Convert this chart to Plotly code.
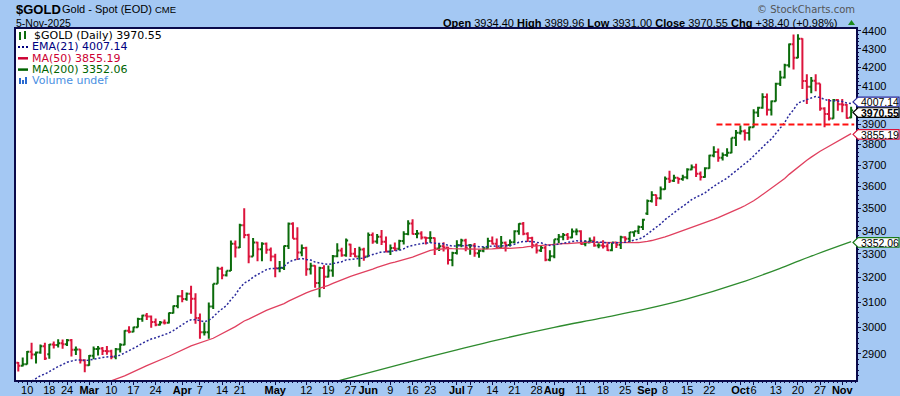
import numpy as np
import pandas as pd
import plotly.graph_objects as go

# ---------------- data ----------------
holidays = ["2025-02-17", "2025-04-18", "2025-05-26", "2025-06-19", "2025-07-04", "2025-09-01"]
_days = pd.bdate_range("2025-02-06", "2025-11-05")
_days = _days[~_days.isin(pd.to_datetime(holidays))]
dates = _days.strftime("%Y-%m-%d").tolist()

opens = [
    2867, 2856, 2861, 2908, 2898, 2905, 2929, 2899, 2935, 2933, 2940, 2936, 2951, 2915, 2916, 2876,
    2858, 2893, 2918, 2920, 2911, 2910, 2889, 2917, 2934, 2988, 2984, 3001, 3034, 3047, 3043, 3022, 3011, 3020, 3019, 3057, 3085,
    3124, 3113, 3134, 3114, 3037, 2982, 2982, 3083, 3175, 3237, 3210, 3229, 3343, 3327, 3424, 3381, 3288, 3349, 3319, 3343, 3317,
    3288, 3239, 3240, 3333, 3431, 3365, 3305, 3325, 3235, 3249, 3178, 3240, 3204, 3230, 3290, 3314, 3294, 3340, 3300, 3288, 3318,
    3289, 3381, 3353, 3373, 3352, 3310, 3325, 3322, 3355, 3385, 3432, 3385, 3388, 3370, 3368, 3368, 3323, 3332, 3327, 3274,
    3303, 3338, 3357, 3337, 3336, 3302, 3313, 3324, 3355, 3343, 3325, 3347, 3338, 3350, 3397, 3431, 3387, 3368, 3337, 3314, 3326, 3275,
    3290, 3363, 3373, 3381, 3370, 3396, 3398, 3342, 3348, 3356, 3335, 3336, 3332, 3315, 3348, 3339, 3371, 3365, 3393, 3397, 3416,
    3476, 3533, 3560, 3545, 3587, 3636, 3626, 3641, 3635, 3643, 3679, 3690, 3659, 3644, 3685, 3747, 3763, 3736, 3749, 3760, 3833,
    3858, 3866, 3857, 3886, 3960, 3985, 4040, 3975, 4018, 4110, 4143, 4209, 4326, 4250, 4356, 4125, 4095, 4126, 4112, 3981, 3953, 3930, 4025,
    4003, 4000, 3934.40,
]
highs = [
    2870, 2886, 2911, 2942, 2909, 2935, 2942, 2937, 2947, 2955, 2954, 2956, 2956, 2928, 2917, 2880,
    2896, 2928, 2930, 2926, 2930, 2915, 2922, 2940, 2990, 3005, 3003, 3038, 3050, 3057, 3047, 3035, 3026, 3032, 3059, 3087, 3128,
    3149, 3139, 3167, 3136, 3055, 3020, 3099, 3175, 3245, 3245, 3229, 3357, 3357, 3430, 3500, 3386, 3368, 3352, 3350, 3349, 3327,
    3300, 3269, 3335, 3436, 3437, 3415, 3340, 3330, 3262, 3252, 3245, 3252, 3250, 3295, 3345, 3326, 3366, 3343, 3325, 3330, 3326,
    3392, 3392, 3385, 3403, 3375, 3340, 3348, 3360, 3398, 3446, 3451, 3403, 3398, 3373, 3398, 3370, 3345, 3350, 3330, 3309,
    3358, 3365, 3365, 3342, 3346, 3318, 3330, 3369, 3375, 3366, 3377, 3353, 3361, 3402, 3433, 3438, 3393, 3373, 3345, 3333, 3334, 3315,
    3363, 3385, 3390, 3390, 3409, 3409, 3402, 3358, 3370, 3375, 3345, 3358, 3345, 3350, 3352, 3378, 3376, 3394, 3398, 3423, 3453,
    3540, 3578, 3563, 3600, 3646, 3674, 3655, 3642, 3655, 3685, 3703, 3707, 3670, 3690, 3750, 3791, 3780, 3761, 3782, 3834, 3872,
    3895, 3875, 3889, 3977, 3990, 4060, 4059, 4022, 4116, 4180, 4218, 4329, 4380, 4381, 4359, 4161, 4146, 4161, 4112, 3988, 4030, 4030, 4030,
    4030, 4004, 3989.96,
]
lows = [
    2835, 2853, 2860, 2880, 2864, 2900, 2877, 2882, 2920, 2924, 2919, 2930, 2890, 2896, 2864, 2832,
    2856, 2880, 2894, 2896, 2897, 2880, 2880, 2905, 2932, 2978, 2982, 3000, 3023, 3030, 2999, 3005, 3008, 3012, 3016, 3055, 3076,
    3100, 3106, 3054, 3015, 2957, 2970, 2957, 3073, 3175, 3193, 3205, 3228, 3284, 3325, 3367, 3260, 3288, 3268, 3268, 3300, 3268,
    3202, 3222, 3232, 3320, 3365, 3274, 3290, 3208, 3213, 3158, 3120, 3153, 3200, 3204, 3285, 3287, 3287, 3286, 3285, 3245, 3270,
    3287, 3343, 3343, 3338, 3307, 3295, 3312, 3315, 3340, 3380, 3383, 3367, 3362, 3340, 3347, 3295, 3312, 3310, 3255, 3247,
    3297, 3328, 3311, 3296, 3287, 3283, 3307, 3322, 3340, 3320, 3320, 3310, 3331, 3345, 3382, 3380, 3351, 3324, 3301, 3308, 3268, 3268,
    3281, 3346, 3358, 3359, 3367, 3380, 3340, 3332, 3345, 3330, 3324, 3323, 3312, 3311, 3325, 3321, 3353, 3351, 3373, 3385, 3403,
    3469, 3526, 3510, 3540, 3584, 3616, 3620, 3612, 3626, 3633, 3676, 3644, 3628, 3640, 3683, 3738, 3717, 3722, 3741, 3758, 3793,
    3850, 3820, 3820, 3884, 3937, 3980, 3945, 3945, 4017, 4098, 4138, 4198, 4186, 4248, 4082, 4004, 4060, 4070, 3970, 3886, 3920, 3929, 3970,
    3962, 3928, 3931.00,
]
closes = [
    2856, 2861, 2908, 2898, 2905, 2929, 2883, 2935, 2933, 2940, 2936, 2951, 2915, 2916, 2876, 2858,
    2893, 2918, 2920, 2911, 2910, 2889, 2917, 2934, 2988, 2984, 3001, 3034, 3047, 3043, 3022, 3011, 3020, 3019, 3057, 3085, 3124,
    3113, 3134, 3114, 3037, 2982, 2982, 3083, 3175, 3237, 3210, 3229, 3343, 3327, 3424, 3381, 3288, 3349, 3319, 3343, 3317, 3288,
    3239, 3240, 3333, 3431, 3365, 3305, 3325, 3235, 3249, 3178, 3240, 3204, 3230, 3290, 3314, 3294, 3357, 3300, 3288, 3318, 3289,
    3381, 3353, 3373, 3352, 3310, 3325, 3322, 3355, 3385, 3432, 3385, 3388, 3370, 3368, 3368, 3323, 3332, 3327, 3274, 3303,
    3338, 3357, 3326, 3336, 3302, 3313, 3324, 3355, 3343, 3325, 3347, 3338, 3350, 3397, 3431, 3387, 3368, 3337, 3314, 3326, 3275, 3290,
    3363, 3373, 3381, 3370, 3396, 3398, 3342, 3348, 3356, 3335, 3336, 3332, 3315, 3348, 3339, 3371, 3365, 3393, 3397, 3416, 3448,
    3533, 3560, 3545, 3587, 3636, 3626, 3641, 3635, 3643, 3679, 3690, 3659, 3644, 3685, 3747, 3763, 3736, 3749, 3760, 3833, 3858,
    3866, 3857, 3886, 3960, 3985, 4040, 3975, 4018, 4110, 4143, 4209, 4326, 4250, 4356, 4125, 4095, 4126, 4112, 3981, 3953, 3930, 4025, 4003,
    4000, 3932.15, 3970.55,
]
prev_close_before_first = 2866
ema21_prior = 2760

ma50_early_dates = ["2025-02-06", "2025-02-12", "2025-02-20", "2025-02-27", "2025-03-06", "2025-03-13",
                    "2025-03-20", "2025-03-27", "2025-04-03", "2025-04-10"]
ma50_early_vals = [2685, 2707, 2735, 2759, 2788, 2819, 2856, 2891, 2930, 2959]

ma200_dates = ["2025-05-01", "2025-05-15", "2025-06-02", "2025-06-16", "2025-07-01", "2025-07-15", "2025-08-01",
               "2025-08-15", "2025-09-02", "2025-09-15", "2025-10-01", "2025-10-15", "2025-10-24", "2025-11-05"]
ma200_vals = [2737, 2782, 2830, 2873, 2915, 2952, 3001, 3035, 3074, 3113, 3179, 3246, 3297, 3352.06]

support_level = 3900
support_start = "2025-09-24"
support_end = "2025-11-05"

y_ticks = [2900, 3000, 3100, 3200, 3300, 3400, 3500, 3600, 3700, 3800, 3900, 4000, 4100, 4200, 4300, 4400]
y_hidden_labels = [4000]   # covered by the EMA value tag in the reference

tick_dates = ["2025-02-10", "2025-02-18", "2025-02-24", "2025-03-03", "2025-03-10", "2025-03-17", "2025-03-24",
              "2025-04-01", "2025-04-07", "2025-04-14", "2025-04-21", "2025-05-01", "2025-05-12", "2025-05-19",
              "2025-05-27", "2025-06-02", "2025-06-09", "2025-06-16", "2025-06-23", "2025-07-01", "2025-07-07",
              "2025-07-14", "2025-07-21", "2025-07-28", "2025-08-01", "2025-08-11", "2025-08-18", "2025-08-25",
              "2025-09-02", "2025-09-08", "2025-09-15", "2025-09-22", "2025-10-01", "2025-10-06", "2025-10-13",
              "2025-10-20", "2025-10-27", "2025-11-03"]
tick_labels = ["10", "18", "24", "<b>Mar</b>", "10", "17", "24", "<b>Apr</b>", "7", "14", "21", "<b>May</b>", "12", "19",
               "27", "<b>Jun</b>", "9", "16", "23", "<b>Jul</b>", "7", "14", "21", "28", "<b>Aug</b>", "11", "18", "25",
               "<b>Sep</b>", "8", "15", "22", "<b>Oct</b>", "6", "13", "20", "27", "<b>Nov</b>"]

legend_price = "3970.55"
legend_ema = "4007.14"
legend_ma50 = "3855.19"
legend_ma200 = "3352.06"

# ---------------- styling ----------------
GREEN = "#0b6b0b"
RED = "#dc143c"
NAVY = "#2a2a9c"
MA200C = "#2e8b2e"
BG = "#a4c8f3"
BORDER = "#0a0a4a"
ARIAL = "Liberation Sans, Arial, sans-serif"
VERD = "DejaVu Sans, Verdana, sans-serif"

W, H = 900, 396
ML, MR, MT, MB = 16, 44, 29, 16
PW, PH = W - ML - MR, H - MT - MB
YLOG = [3.44774, 3.64457]
XR = [-0.52, 189.1]


def XP(X):
    return (X - ML) / PW


def YP(Y):
    return (MT + PH - Y) / PH


def ypaper(p):
    return (np.log10(p) - YLOG[0]) / (YLOG[1] - YLOG[0])


def Ypix(p):
    return MT + PH - ypaper(p) * PH


n = len(dates)
pos = {d: i for i, d in enumerate(dates)}
idx = np.arange(n)
cl = np.array(closes, dtype=float)
prev = np.concatenate([[prev_close_before_first], cl[:-1]])
up = cl >= prev

# indicators
k = 2 / 22
ema = []
e = ema21_prior
for c in cl:
    e = e + k * (c - e)
    ema.append(e)
ma50_roll = pd.Series(cl).rolling(50).mean()
ma50_x = [pos[d] for d in ma50_early_dates] + list(range(49, n))
ma50_y = list(ma50_early_vals) + list(ma50_roll[49:])
ma200_x = [pos[d] for d in ma200_dates]

fig = go.Figure()

for mask, col in ((up, GREEN), (~up, RED)):
    sel = np.where(mask)[0]
    fig.add_trace(go.Ohlc(
        x=idx[sel], open=np.array(opens)[sel], high=np.array(highs)[sel],
        low=np.array(lows)[sel], close=cl[sel],
        increasing=dict(line=dict(color=col, width=2)),
        decreasing=dict(line=dict(color=col, width=2)),
        tickwidth=0.45, showlegend=False, hoverinfo="skip"))

fig.add_trace(go.Scatter(x=ma200_x, y=ma200_vals, mode="lines", line=dict(color=MA200C, width=1.3, shape="spline"),
                         showlegend=False, hoverinfo="skip"))
fig.add_trace(go.Scatter(x=ma50_x, y=ma50_y, mode="lines", line=dict(color="#e0405f", width=1.3),
                         showlegend=False, hoverinfo="skip"))
fig.add_trace(go.Scatter(x=idx, y=ema, mode="lines", line=dict(color=NAVY, width=1.5, dash="2px,2px"),
                         showlegend=False, hoverinfo="skip"))

shapes = []
annotations = []

# support line
shapes.append(dict(type="line", xref="x", yref="paper", x0=pos[support_start] - 0.4, x1=pos[support_end] + 0.7,
                   y0=ypaper(support_level), y1=ypaper(support_level),
                   line=dict(color="#ff1010", width=2, dash="6px,3px"), layer="above"))

# header
annotations += [
    dict(text="<b>$GOLD</b>", x=XP(14), y=YP(9), font=dict(family=ARIAL, size=13, color="black")),
    dict(text="Gold - Spot (EOD)", x=XP(60), y=YP(9.5), font=dict(family=ARIAL, size=11, color="black")),
    dict(text="CME", x=XP(153), y=YP(10), font=dict(family=ARIAL, size=9.5, color="black")),
    dict(text="5-Nov-2025", x=XP(14), y=YP(23), font=dict(family=ARIAL, size=10.5, color="black")),
    dict(text="© StockCharts.com", x=XP(755), y=YP(9), font=dict(family=VERD, size=10, color="#555555")),
    dict(text="<b>Open</b> 3934.40 <b>High</b> 3989.96 <b>Low</b> 3931.00 <b>Close</b> 3970.55 <b>Chg</b> +38.40 (+0.98%)",
         x=XP(441), y=YP(23), font=dict(family=ARIAL, size=11, color="black")),
]
# green up triangle in header
shapes.append(dict(type="path", xref="paper", yref="paper",
                   path=f"M {XP(848)},{YP(25)} L {XP(855)},{YP(25)} L {XP(851.5)},{YP(20)} Z",
                   fillcolor="#1a8a1a", line=dict(width=0), layer="above"))

# legend inside plot
leg = [
    ("$GOLD (Daily) " + legend_price, "black", 35.5),
    ("EMA(21) " + legend_ema, "#000080", 46.8),
    ("MA(50) " + legend_ma50, "#cc0033", 58.1),
    ("MA(200) " + legend_ma200, "#006400", 69.4),
    ("Volume undef", "#4a90e2", 80.7),
]
for i, (txt, col, yy) in enumerate(leg):
    annotations.append(dict(text=txt, x=XP(30 if i else 32), y=YP(yy), font=dict(family=VERD, size=11, color=col)))
# icons
shapes.append(dict(type="line", xref="paper", yref="paper", x0=XP(20), x1=XP(20), y0=YP(32), y1=YP(40),
                   line=dict(color=GREEN, width=2), layer="above"))
shapes.append(dict(type="line", xref="paper", yref="paper", x0=XP(25), x1=XP(25), y0=YP(31), y1=YP(39),
                   line=dict(color=GREEN, width=2), layer="above"))
shapes.append(dict(type="line", xref="paper", yref="paper", x0=XP(18), x1=XP(28), y0=YP(47), y1=YP(47),
                   line=dict(color="#000080", width=2, dash="2px,2px"), layer="above"))
shapes.append(dict(type="line", xref="paper", yref="paper", x0=XP(18), x1=XP(28), y0=YP(58.3), y1=YP(58.3),
                   line=dict(color="#cc0033", width=2.5), layer="above"))
shapes.append(dict(type="line", xref="paper", yref="paper", x0=XP(18), x1=XP(28), y0=YP(69.6), y1=YP(69.6),
                   line=dict(color="#006400", width=2.5), layer="above"))
for bx, bt in ((19, 78), (22, 80), (25, 77)):
    shapes.append(dict(type="rect", xref="paper", yref="paper", x0=XP(bx), x1=XP(bx + 2), y0=YP(84), y1=YP(bt),
                       fillcolor="#2a6ad0", line=dict(width=0), layer="above"))

# right-side value tags
tags = [
    (float(legend_ema), NAVY, False, -1.5),
    (float(legend_price), "black", True, 2.0),
    (float(legend_ma50), RED, False, 1.0),
    (float(legend_ma200), "#1a7a1a", False, 0.8),
]
for val, col, bold, dy in tags:
    yc = Ypix(val) + dy
    hh = 4.8
    shapes.append(dict(type="path", xref="paper", yref="paper",
                       path=(f"M {XP(853)},{YP(yc)} L {XP(858)},{YP(yc - hh)} L {XP(899)},{YP(yc - hh)} "
                             f"L {XP(899)},{YP(yc + hh)} L {XP(858)},{YP(yc + hh)} Z"),
                       fillcolor="white", line=dict(color=col, width=1.2), layer="above"))
    t = f"{val:.2f}"
    annotations.append(dict(text=f"<b>{t}</b>" if bold else t, x=XP(858.5), y=YP(yc + 0.3),
                            font=dict(family=ARIAL, size=10.5, color="black")))

for a in annotations:
    a.update(xref="paper", yref="paper", xanchor="left", yanchor="middle", showarrow=False)

fig.update_layout(
    width=W, height=H,
    margin=dict(l=ML, r=MR, t=MT, b=MB, pad=0, autoexpand=False),
    paper_bgcolor=BG, plot_bgcolor="white",
    shapes=shapes, annotations=annotations,
    showlegend=False,
    xaxis=dict(
        type="linear", range=XR, rangeslider=dict(visible=False), automargin=False,
        tickmode="array", tickvals=[pos[d] for d in tick_dates], ticktext=tick_labels, tickangle=0,
        ticks="outside", ticklen=3, tickcolor=BORDER, tickwidth=1, ticklabelstandoff=-4,
        showline=True, linecolor=BORDER, linewidth=1.5, mirror=True,
        showgrid=False, zeroline=False,
        tickfont=dict(family=ARIAL, size=11, color="black"),
        minor=dict(ticks="outside", ticklen=1, tickcolor=BORDER, dtick=1, tick0=0, showgrid=False),
    ),
    yaxis=dict(
        type="log", range=YLOG, side="right", automargin=False,
        tickmode="array", tickvals=y_ticks,
        ticktext=["" if v in y_hidden_labels else str(v) for v in y_ticks],
        ticks="outside", ticklen=3, tickcolor=BORDER, tickwidth=1, ticklabelstandoff=-1,
        showline=True, linecolor=BORDER, linewidth=1.5, mirror=True,
        showgrid=False, zeroline=False,
        tickfont=dict(family=ARIAL, size=11, color="black"),
        minor=dict(ticks="outside", ticklen=1, tickcolor=BORDER, tickvals=list(range(2820, 4420, 20)), showgrid=False),
    ),
)

fig.write_html("out.html")
